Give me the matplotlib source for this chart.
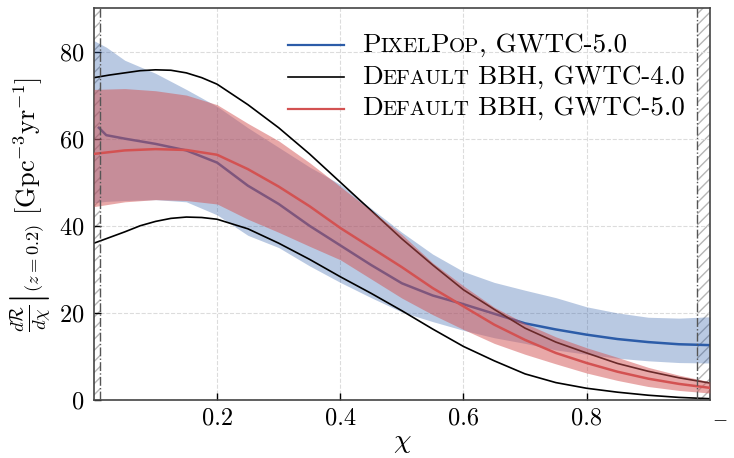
import matplotlib
matplotlib.use("Agg")
import matplotlib.pyplot as plt
from matplotlib.offsetbox import TextArea, HPacker, VPacker, DrawingArea, AnchoredOffsetbox
from matplotlib.lines import Line2D

plt.rcParams['font.family'] = ['serif']
plt.rcParams['font.serif'] = ['cmr10', 'DejaVu Serif']
plt.rcParams['mathtext.fontset'] = 'cm'
plt.rcParams['axes.formatter.use_mathtext'] = True
plt.rcParams['hatch.linewidth'] = 1.0

# ---------------- data ----------------
# Default BBH, GWTC-4.0 (90% bounds, black lines)
x_g4 = [0.0, 0.025, 0.05, 0.075, 0.1, 0.125, 0.15, 0.175, 0.2, 0.25, 0.3, 0.35, 0.4, 0.45, 0.5, 0.55, 0.6, 0.65, 0.7, 0.75, 0.8, 0.85, 0.9, 0.95, 1.0]
g4_upper = [74.0, 74.6, 75.1, 75.6, 75.8, 75.7, 75.1, 74.0, 72.5, 67.8, 62.5, 56.5, 50.0, 43.5, 37.0, 31.0, 25.3, 20.8, 16.5, 13.3, 10.8, 8.4, 6.6, 5.1, 3.9]
g4_lower = [36.0, 37.3, 38.6, 40.0, 41.0, 41.7, 42.0, 41.9, 41.5, 39.3, 36.0, 32.3, 28.3, 24.5, 20.5, 16.3, 12.3, 9.0, 6.0, 4.0, 2.7, 1.8, 1.1, 0.6, 0.3]

# Default BBH, GWTC-5.0 (median and 90% band, red)
x_g5 = [0.0, 0.05, 0.1, 0.15, 0.2, 0.25, 0.3, 0.35, 0.4, 0.45, 0.5, 0.55, 0.6, 0.65, 0.7, 0.75, 0.8, 0.85, 0.9, 0.95, 1.0]
g5_median = [56.5, 57.3, 57.6, 57.4, 56.3, 53.0, 49.0, 44.5, 39.5, 35.0, 30.5, 25.7, 21.5, 17.3, 13.8, 10.8, 8.5, 6.5, 4.9, 3.7, 2.8]
g5_upper = [71.3, 71.5, 71.0, 70.0, 67.8, 63.5, 59.5, 54.5, 49.0, 43.5, 38.0, 31.5, 26.2, 21.3, 17.6, 14.5, 12.0, 9.8, 7.5, 5.7, 4.2]
g5_lower = [44.4, 45.5, 46.0, 45.8, 45.0, 41.5, 38.5, 35.3, 32.2, 27.8, 23.4, 19.6, 16.2, 13.0, 10.5, 8.3, 6.2, 4.5, 3.1, 2.2, 1.6]

# PixelPop, GWTC-5.0 (median and 90% band, blue)
x_pp = [0.0, 0.02, 0.05, 0.1, 0.15, 0.2, 0.25, 0.3, 0.35, 0.4, 0.45, 0.5, 0.55, 0.6, 0.65, 0.7, 0.75, 0.8, 0.85, 0.9, 0.95, 1.0]
pp_upper = [82.5, 81.0, 78.0, 75.0, 71.3, 67.4, 62.5, 58.0, 53.5, 49.5, 44.0, 38.5, 33.5, 29.5, 27.0, 25.2, 23.5, 21.4, 20.0, 19.0, 18.8, 19.1]
pp_lower = [45.3, 45.6, 45.8, 46.0, 45.5, 42.5, 37.8, 35.0, 30.8, 27.0, 23.5, 20.2, 18.0, 16.0, 14.3, 13.0, 11.5, 10.5, 9.6, 9.0, 8.6, 8.5]
x_pp_med = [0.008, 0.02, 0.05, 0.1, 0.15, 0.2, 0.25, 0.3, 0.35, 0.4, 0.45, 0.5, 0.55, 0.6, 0.65, 0.7, 0.75, 0.8, 0.85, 0.9, 0.95, 1.0]
pp_median = [62.5, 60.8, 60.0, 58.8, 57.3, 54.5, 49.2, 45.0, 40.0, 35.5, 31.0, 26.8, 24.0, 22.0, 19.8, 17.6, 16.2, 15.0, 14.0, 13.3, 12.8, 12.6]

chi_lo, chi_hi = 0.01, 0.98
x_ticks = [0.2, 0.4, 0.6, 0.8]
x_tick_labels = ['0.2', '0.4', '0.6', '0.8']
y_ticks = [0, 20, 40, 60, 80]

# ---------------- colours ----------------
blue = '#2c5ca8'
red = '#d35252'

fig = plt.figure(figsize=(7.34, 4.58), dpi=100)
ax = fig.add_axes([0.128, 0.1266, 0.839, 0.856])

ax.fill_between(x_pp, pp_lower, pp_upper, color=blue, alpha=0.33, lw=0, zorder=1)
ax.plot(x_pp_med, pp_median, color=blue, lw=1.8, zorder=2)
ax.plot(x_g4, g4_upper, color='black', lw=1.2, zorder=2.5)
ax.plot(x_g4, g4_lower, color='black', lw=1.2, zorder=2.5)
ax.fill_between(x_g5, g5_lower, g5_upper, color=red, alpha=0.5, lw=0, zorder=3)
ax.plot(x_g5, g5_median, color=red, lw=1.8, zorder=4)

# excluded regions
ax.axvspan(0, chi_lo, facecolor='none', edgecolor='#b5b5b5', hatch='///', lw=0, zorder=0.5)
ax.axvspan(chi_hi, 1.0, facecolor='none', edgecolor='#b5b5b5', hatch='///', lw=0, zorder=0.5)
ax.axvline(chi_lo, color='#555555', ls='-.', lw=1.0, zorder=5)
ax.axvline(chi_hi, color='#555555', ls='-.', lw=1.0, zorder=5)

ax.set_xlim(0, 1)
ax.set_ylim(0, 90)
ax.set_xticks(x_ticks)
ax.set_xticklabels(x_tick_labels)
ax.set_yticks(y_ticks)
ax.tick_params(direction='in', length=5, width=1, labelsize=17.5)
ax.tick_params(axis='x', pad=5)
ax.tick_params(axis='y', pad=7)
ax.grid(True, color='#dcdcdc', ls='--', lw=0.8, zorder=0)
ax.set_axisbelow(True)
for s in ax.spines.values():
    s.set_color('#444444')
    s.set_linewidth(1.2)

ax.set_xlabel(r'$\chi$', fontsize=20, labelpad=0)
ax.set_ylabel(r'$\left.\frac{d\mathcal{R}}{d\chi}\right|_{(z=0.2)}\ [\mathrm{Gpc}^{-3}\mathrm{yr}^{-1}]$',
              fontsize=19, labelpad=4)

fig.text(720 / 734, 1 - 418 / 458, r'$-$', ha='center', va='center', fontsize=14)

# ---------------- legend with small caps ----------------
BIG, SMALL = 19.5, 15

def smallcaps(word):
    parts = []
    for ch in word:
        if ch.isupper():
            parts.append((ch, BIG))
        else:
            parts.append((ch.upper(), SMALL))
    merged = []
    for t, s in parts:
        if merged and merged[-1][1] == s:
            merged[-1] = (merged[-1][0] + t, s)
        else:
            merged.append((t, s))
    return merged

legend_entries = [
    (blue, smallcaps('PixelPop') + [(', GWTC-5.0', BIG)]),
    ('black', smallcaps('Default') + [(' BBH, GWTC-4.0', BIG)]),
    (red, smallcaps('Default') + [(' BBH, GWTC-5.0', BIG)]),
]

rows = []
for col, pieces in legend_entries:
    da = DrawingArea(40, 10, 0, 0)
    da.add_artist(Line2D([0, 40], [5, 5], color=col, lw=1.6 if col != 'black' else 1.2))
    texts = [TextArea(t, textprops=dict(fontsize=s, family=['cmr10', 'DejaVu Serif'])) for t, s in pieces]
    tp = HPacker(children=texts, align='baseline', pad=0, sep=0)
    rows.append(HPacker(children=[da, tp], align='center', pad=0, sep=13))

vp = VPacker(children=rows, align='left', pad=0, sep=5.5)
anch = AnchoredOffsetbox(loc='upper right', child=vp, frameon=False, pad=0, borderpad=0,
                         bbox_to_anchor=(0.96, 0.935), bbox_transform=ax.transAxes)
ax.add_artist(anch)

fig.savefig('out.png', dpi=100)
